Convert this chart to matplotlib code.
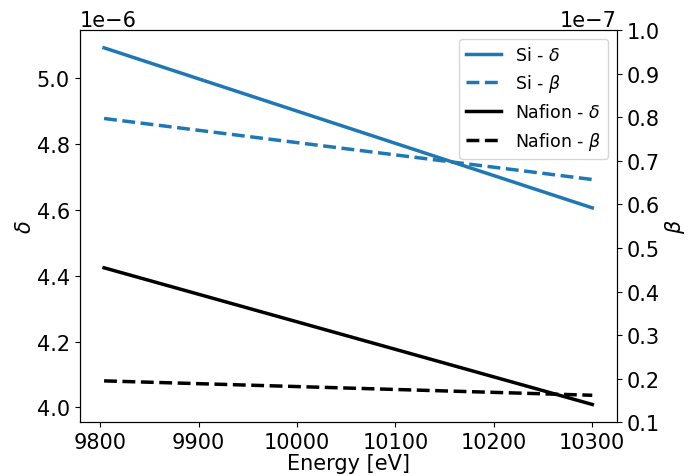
import matplotlib
matplotlib.use("Agg")
import matplotlib.pyplot as plt
import numpy as np

# photon energy [eV]
energy = [9804, 10300]

# refractive index decrement and absorption index
si_delta = [5.092e-6, 4.606e-6]
si_beta = [0.797e-7, 0.657e-7]
nafion_delta = [4.424e-6, 4.009e-6]
nafion_beta = [0.195e-7, 0.162e-7]

plt.rcParams["font.size"] = 15

fig, ax = plt.subplots(figsize=(6.97, 4.77), dpi=100)
fig.subplots_adjust(left=0.1143, right=0.8848, bottom=0.1126, top=0.935)
ax2 = ax.twinx()

l1, = ax.plot(energy, si_delta, color="tab:blue", lw=2.5, label=r"Si - $\delta$")
l2, = ax2.plot(energy, si_beta, color="tab:blue", lw=2.5, ls="--", label=r"Si - $\beta$")
l3, = ax.plot(energy, nafion_delta, color="black", lw=2.5, label=r"Nafion - $\delta$")
l4, = ax2.plot(energy, nafion_beta, color="black", lw=2.5, ls="--", label=r"Nafion - $\beta$")

ax2.set_ylim(0.1e-7, 1.0e-7)
ax2.set_yticks(np.arange(1, 11) * 1e-8)
ax.set_xticks([9800, 9900, 10000, 10100, 10200, 10300])
ax.set_xlabel("Energy [eV]", labelpad=1)
ax.set_ylabel(r"$\delta$", labelpad=1.5)
ax2.set_ylabel(r"$\beta$", labelpad=2.5)

ax2.legend(handles=[l1, l2, l3, l4], loc="upper right", fontsize=12.5)

fig.savefig("out.png", dpi=100)
